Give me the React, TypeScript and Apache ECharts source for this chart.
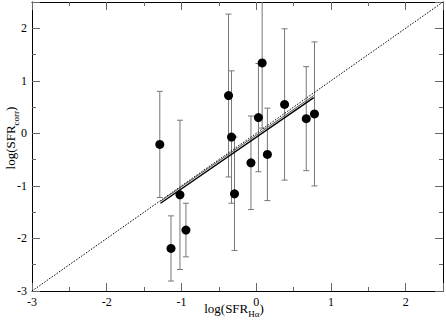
import React, { useEffect, useRef } from "react";
import * as echarts from "echarts";

// Data
const xVals = [-1.29, -1.02, -1.14, -0.94, -0.37, -0.33, -0.29, -0.07, 0.03, 0.08, 0.15, 0.38, 0.67, 0.78];
const yVals = [-0.21, -1.17, -2.19, -1.84, 0.72, -0.07, -1.15, -0.56, 0.3, 1.34, -0.4, 0.55, 0.28, 0.37];
const yErr = [1.01, 1.42, 0.62, 0.51, 1.55, 1.26, 1.08, 0.89, 1.03, 1.24, 0.88, 1.44, 0.99, 1.37];
const fitLower = [[-1.28, -1.33], [0.77, 0.68]];
const fitUpper = [[-1.28, -1.29], [0.77, 0.72]];
const oneToOne = [[-3, -3], [2.5, 2.5]];
const axisMin = -3;
const axisMax = 2.5;
const axisInterval = 1;

const FONT = "Liberation Serif";

function axisCommon(position: string, showLabel: boolean) {
  return {
    type: "value",
    min: axisMin,
    max: axisMax,
    interval: axisInterval,
    position,
    axisLine: { show: true, onZero: false, lineStyle: { color: "#000", width: 1 } },
    axisTick: { show: true, inside: true, length: 8, lineStyle: { color: "#666", width: 1 } },
    minorTick: { show: true, splitNumber: 2, length: 4, lineStyle: { color: "#666", width: 1 } },
    splitLine: { show: false },
    minorSplitLine: { show: false },
    axisLabel: {
      show: showLabel,
      color: "#000",
      fontFamily: FONT,
      fontSize: 12,
      margin: 5,
      formatter: (v: number) => (Number.isInteger(v) ? String(v) : ""),
    },
  };
}

export default function App() {
  const ref = useRef<HTMLDivElement>(null);
  useEffect(() => {
    const chart = echarts.init(ref.current!, null, { renderer: "svg" });
    const errData = xVals.map((x, i) => [x, yVals[i] - yErr[i], yVals[i] + yErr[i]]);
    const pts = xVals.map((x, i) => [x, yVals[i]]);
    chart.setOption({
      animation: false,
      backgroundColor: "#fff",
      grid: { left: 32, top: 2, right: 1.5, bottom: 30, containLabel: false },
      xAxis: [axisCommon("bottom", true), axisCommon("top", false)],
      yAxis: [axisCommon("left", true), axisCommon("right", false)],
      series: [
        {
          type: "line",
          data: oneToOne,
          symbol: "none",
          lineStyle: { color: "#000", width: 1, type: [1.5, 1.5] },
          silent: true,
        },
        {
          type: "custom",
          data: errData,
          renderItem: (params: any, api: any) => {
            const x = api.value(0);
            const lo = api.value(1);
            const hi = api.value(2);
            const pLo = api.coord([x, lo]);
            const pHi = api.coord([x, Math.min(hi, axisMax)]);
            const w = 3;
            const style = { stroke: "#777", lineWidth: 1 };
            const children: any[] = [
              { type: "line", shape: { x1: pHi[0], y1: pHi[1], x2: pLo[0], y2: pLo[1] }, style },
              { type: "line", shape: { x1: pLo[0] - w, y1: pLo[1], x2: pLo[0] + w, y2: pLo[1] }, style },
            ];
            if (hi <= axisMax) {
              children.push({ type: "line", shape: { x1: pHi[0] - w, y1: pHi[1], x2: pHi[0] + w, y2: pHi[1] }, style });
            }
            return { type: "group", children };
          },
          silent: true,
          z: 3,
        },
        {
          type: "line",
          data: fitUpper,
          symbol: "none",
          lineStyle: { color: "#555", width: 1 },
          silent: true,
          z: 4,
        },
        {
          type: "line",
          data: fitLower,
          symbol: "none",
          lineStyle: { color: "#000", width: 1.5 },
          silent: true,
          z: 4,
        },
        {
          type: "scatter",
          data: pts,
          symbol: "circle",
          symbolSize: 9,
          itemStyle: { color: "#000", opacity: 1 },
          silent: true,
          z: 5,
        },
      ],
      graphic: [
        {
          type: "text",
          x: 234,
          y: 310,
          style: {
            text: "{a|log(SFR}{s|Hα}{a|)}",
            align: "center",
            verticalAlign: "middle",
            rich: {
              a: { fontFamily: FONT, fontSize: 13, fill: "#000", lineHeight: 16, verticalAlign: "top" },
              s: { fontFamily: FONT, fontSize: 9, fill: "#000", lineHeight: 16, verticalAlign: "bottom", padding: [0, 0, 0, 0] },
            },
          },
        },
        {
          type: "text",
          x: 12,
          y: 138,
          rotation: Math.PI / 2,
          style: {
            text: "{a|log(SFR}{s|corr}{a|)}",
            align: "center",
            verticalAlign: "middle",
            rich: {
              a: { fontFamily: FONT, fontSize: 13, fill: "#000", lineHeight: 16, verticalAlign: "top" },
              s: { fontFamily: FONT, fontSize: 9, fill: "#000", lineHeight: 16, verticalAlign: "bottom" },
            },
          },
        },
      ],
    });
    return () => chart.dispose();
  }, []);
  return <div ref={ref} style={{ position: "absolute", left: 0, top: 0, width: 446, height: 321 }} />;
}
